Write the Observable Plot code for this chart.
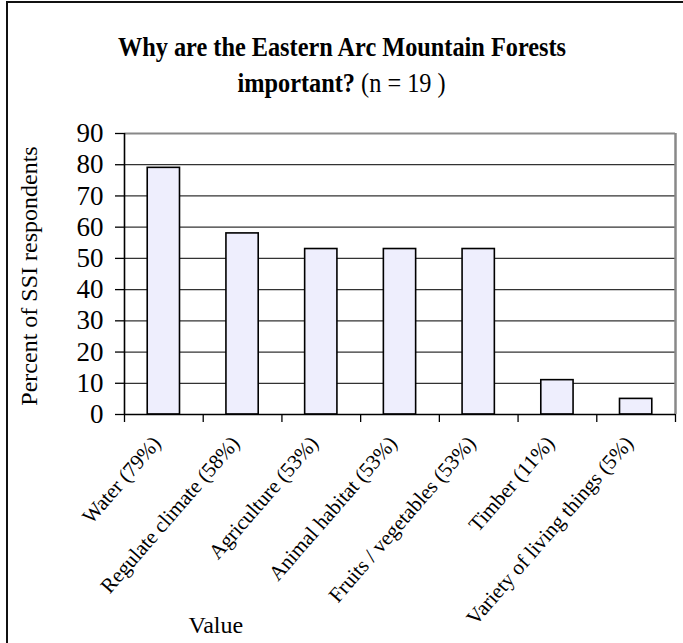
<!DOCTYPE html>
<html>
<head>
<meta charset="utf-8">
<script src="https://cdn.jsdelivr.net/npm/d3@7"></script>
<script src="https://cdn.jsdelivr.net/npm/@observablehq/plot@0.6"></script>
<style>
  html, body { margin: 0; padding: 0; background: #fff; }
  #wrap { position: relative; width: 683px; height: 643px; overflow: hidden; background: #fff; font-family: "Liberation Serif", "Times New Roman", serif; }
  #frame { position: absolute; left: 6px; top: 1px; width: 700px; height: 700px; border-left: 2px solid #111; border-top: 2px solid #111; box-sizing: border-box; }
  #title { position: absolute; left: 0; top: 0; width: 683px; height: 115px; text-align: center; color: #000; }
  #title .l { position: absolute; left: 0; width: 683px; text-align: center; font-size: 27px; line-height: 32px; }
  #title .l span { display: inline-block; transform: scaleX(0.9); transform-origin: center; }
  #title .l1 { top: 31px; font-weight: bold; }
  #title .l2 { top: 67px; }
  #title b { font-weight: bold; }
  #chart { position: absolute; left: 0; top: 115px; }
</style>
</head>
<body>
<div id="wrap">
  <div id="frame"></div>
  <div id="title">
    <div class="l l1"><span>Why are the Eastern Arc Mountain Forests</span></div>
    <div class="l l2"><span><b>important?</b> (n = 19 )</span></div>
  </div>
  <div id="chart"></div>
</div>
<script>
const categories = ["Water (79%)", "Regulate climate (58%)", "Agriculture (53%)", "Animal habitat (53%)", "Fruits / vegetables (53%)", "Timber (11%)", "Variety of living things (5%)"];
const values = [79, 58, 53, 53, 53, 11, 5];
const yTicks = [0, 10, 20, 30, 40, 50, 60, 70, 80, 90];
const yLabel = "Percent of SSI respondents";
const xLabel = "Value";

const data = categories.map((c, i) => ({category: c, index: i, value: values[i]}));
const boundaries = d3.range(categories.length + 1);
const innerGrid = yTicks.filter(t => t > 0 && t < 90);

const chart = Plot.plot({
  width: 683,
  height: 528,
  marginLeft: 124,
  marginRight: 8,
  marginTop: 18,
  marginBottom: 229,
  style: {fontFamily: "'Liberation Serif', 'Times New Roman', serif", fontSize: "24px", color: "#000", background: "transparent"},
  x: {type: "linear", domain: [0, categories.length], axis: null},
  y: {domain: [0, 90], axis: null},
  marks: [
    Plot.ruleY(innerGrid, {stroke: "#333", strokeWidth: 1.2}),
    Plot.ruleY([90], {stroke: "#888", strokeWidth: 2.2}),
    Plot.ruleX([categories.length], {stroke: "#888", strokeWidth: 2.5}),
    Plot.rectY(data, {x1: d => d.index + 0.295, x2: d => d.index + 0.705, y1: 0, y2: "value", fill: "#EEEEFD", stroke: "#000", strokeWidth: 1.6}),
    Plot.axisY(yTicks, {tickSize: 9, tickFormat: () => "", stroke: "#000", strokeWidth: 1.3, label: null}),
    Plot.text(yTicks, {x: 0, y: d => d, text: d => String(d), textAnchor: "end", dx: -21, fontSize: 27}),
    Plot.axisX(boundaries, {tickSize: 8, tickFormat: () => "", stroke: "#000", strokeWidth: 1.3, label: null}),
    Plot.ruleX([0], {y1: 0, y2: 90, stroke: "#000", strokeWidth: 1.6}),
    Plot.ruleY([0], {stroke: "#000", strokeWidth: 1.6}),
    Plot.text(data, {x: d => d.index + 0.5, y: 0, text: "category", rotate: -49, textAnchor: "end", fontSize: 21, dx: -7, dy: 25}),
    Plot.text([yLabel], {frameAnchor: "left", text: d => d, rotate: -90, textAnchor: "middle", dx: -95, dy: 2, fontSize: 24}),
    Plot.text([xLabel], {frameAnchor: "bottom-left", text: d => d, textAnchor: "start", lineAnchor: "bottom", dx: 64, dy: 218, fontSize: 24})
  ]
});
document.getElementById("chart").appendChild(chart);
</script>
</body>
</html>
